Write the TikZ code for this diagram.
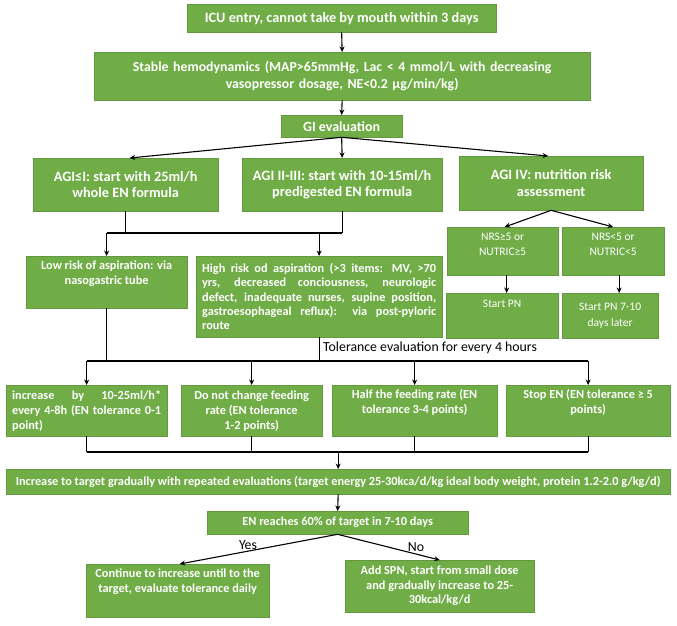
\documentclass[tikz,border=0pt]{standalone}
\usepackage{fontspec}
\setmainfont{Carlito}
\usetikzlibrary{arrows.meta,shadows,calc}
\definecolor{boxgreen}{RGB}{112,173,71}
\newcommand\fsz[2]{\fontsize{#1}{#2}\selectfont}
\tikzset{
  gbox/.style={anchor=north west, fill=boxgreen, draw=boxgreen!88!black, line width=0.3pt,
    text=white, inner sep=0pt, align=center,
    drop shadow={shadow xshift=1.3pt, shadow yshift=-1.3pt, opacity=0.35, fill=black!60}},
  toplbl/.style={anchor=north, text=white, align=center, inner sep=0pt},
  conn/.style={line width=1.1pt, black},
  arr/.style={conn, -{Stealth[length=5.5pt,width=5pt]}},
  lbl/.style={text=black, inner sep=0pt, font=\fsz{13.8}{16}},
}
\begin{document}
\begin{tikzpicture}[x=1pt,y=-1pt]
\useasboundingbox (0,0) rectangle (677,625);
% row 1-3
\node[gbox, minimum width=309pt, minimum height=28pt, font=\bfseries\fsz{14.3}{16}] (icu) at (187,4)
  {ICU entry, cannot take by mouth within 3 days};
\node[gbox, minimum width=496pt, minimum height=48pt, text width=486pt, font=\bfseries\fsz{13.8}{17}] (stable) at (94,52)
  {Stable hemodynamics (MAP>65mmHg, Lac < 4 mmol/L with decreasing\\vasopressor dosage, NE<0.2 µg/min/kg)};
\node[gbox, minimum width=121pt, minimum height=22pt, font=\bfseries\fsz{14}{16}] (gi) at (281,115)
  {GI evaluation};
% AGI row
\node[gbox, minimum width=185pt, minimum height=53pt, font=\bfseries\fsz{14.3}{16.5}] (agi1) at (33,158)
  {AGI≤I: start with 25ml/h\\whole EN formula};
\node[gbox, minimum width=200pt, minimum height=53pt, font=\bfseries\fsz{14.3}{16.5}] (agi2) at (242,158)
  {AGI II-III: start with 10-15ml/h\\predigested EN formula};
\node[gbox, minimum width=184pt, minimum height=54pt, font=\bfseries\fsz{14.3}{16.5}] (agi3) at (459,156)
  {AGI IV: nutrition risk\\assessment};
% aspiration row
\node[gbox, minimum width=161pt, minimum height=52pt,
  label={[toplbl, yshift=-5pt, font=\bfseries\fsz{12.3}{15}]north:{Low risk of aspiration: via\\nasogastric tube}}] (low) at (26,256) {};
\node[gbox, minimum width=246pt, minimum height=81pt, text width=234pt, align=justify, font=\bfseries\fsz{12.3}{14.4}] (high) at (196,256)
  {\hyphenpenalty=10000 High risk od aspiration (>3 items: MV, >70\linebreak yrs, decreased conciousness, neurologic\linebreak defect, inadequate nurses, supine position,\linebreak gastroesophageal reflux): via post-pyloric\linebreak route};
% NRS
\node[gbox, minimum width=111pt, minimum height=48pt,
  label={[toplbl, yshift=-6pt, font=\fsz{11.5}{15}]north:{NRS≥5 or\\NUTRIC≥5}}] (nrs1) at (447,227) {};
\node[gbox, minimum width=102pt, minimum height=48pt,
  label={[toplbl, yshift=-6pt, font=\fsz{11.5}{15}]north:{NRS<5 or\\NUTRIC<5}}] (nrs2) at (562,227) {};
\node[gbox, minimum width=112pt, minimum height=45pt,
  label={[toplbl, yshift=-7pt, font=\fsz{11.5}{15}]north:{Start PN}}] (pn1) at (446,293) {};
\node[gbox, minimum width=96pt, minimum height=45pt, font=\fsz{11.5}{16}] (pn2) at (562,293)
  {Start PN 7-10\\days later};
% tolerance label
\node[lbl, anchor=west] (tol) at (323,348) {Tolerance evaluation for every 4 hours};
% row 4
\node[gbox, minimum width=161pt, minimum height=51pt, text width=149pt, align=justify, font=\bfseries\fsz{12.3}{15}] (inc) at (6,385)
  {\hyphenpenalty=10000 increase by 10-25ml/h*\linebreak every 4-8h (EN tolerance 0-1\linebreak point)};
\node[gbox, minimum width=141pt, minimum height=51pt, font=\bfseries\fsz{12.3}{15}] (dnc) at (181,385)
  {Do not change feeding\\rate (EN tolerance\\1-2 points)};
\node[gbox, minimum width=165pt, minimum height=51pt,
  label={[toplbl, yshift=-4pt, font=\bfseries\fsz{12.3}{15}]north:{Half the feeding rate (EN\\tolerance 3-4 points)}}] (half) at (332,385) {};
\node[gbox, minimum width=164pt, minimum height=51pt,
  label={[toplbl, yshift=-4pt, font=\bfseries\fsz{12.3}{15}]north:{Stop EN (EN tolerance ≥ 5\\points)}}] (stop) at (506,385) {};
% bottom
\node[gbox, minimum width=664pt, minimum height=25pt, font=\bfseries\fsz{12.3}{14}] (target) at (6,469)
  {Increase to target gradually with repeated evaluations (target energy 25-30kca/d/kg ideal body weight, protein 1.2-2.0 g/kg/d)};
\node[gbox, minimum width=261pt, minimum height=23pt, font=\bfseries\fsz{12.3}{14}] (en) at (207,511)
  {EN reaches 60\% of target in 7-10 days};
\node[gbox, minimum width=183pt, minimum height=53pt,
  label={[toplbl, yshift=-5pt, font=\bfseries\fsz{12.3}{15}]north:{Continue to increase until to the\\target, evaluate tolerance daily}}] (cont) at (86,564) {};
\node[gbox, minimum width=189pt, minimum height=52pt, font=\bfseries\fsz{12.3}{14.5}] (spn) at (345,560)
  {Add SPN, start from small dose\\and gradually increase to 25-\\30kcal/kg/d};
\node[lbl] (yes) at (248,545) {Yes};
\node[lbl] (no) at (416,547) {No};
% junction coordinates
\coordinate (r1) at (0,233);
\coordinate (r2) at (0,361);
\coordinate (r3) at (0,452);
% connectors
\draw[arr] (icu.south) -- (stable.north);
\draw[arr] (stable.south) -- (gi.north);
\draw[arr] (gi.south) -- ([xshift=4pt]agi1.north);
\draw[arr] (gi.south) -- (agi2.north);
\draw[arr] (gi.south) -- ([xshift=-3pt]agi3.north);
\draw[conn] (agi1.south) -- (agi1.south |- r1);
\draw[conn] (agi2.south) -- (agi2.south |- r1);
\draw[conn] (low.north |- r1) -- (agi2.south |- r1);
\draw[arr] (low.north |- r1) -- (low.north);
\draw[arr] (high.north |- r1) -- (high.north);
\draw[arr] (agi3.south) -- ([xshift=2pt]nrs1.north);
\draw[arr] (agi3.south) -- (nrs2.north);
\draw[arr] ([xshift=4pt]nrs1.south) -- ([xshift=4pt]nrs1.south |- pn1.north);
\draw[arr] ([xshift=6pt]nrs2.south) -- ([xshift=6pt]nrs2.south |- pn2.north);
\draw[conn] (low.south) -- (low.south |- r2);
\draw[conn] (high.south) -- (high.south |- r2);
\draw[conn] (inc.north |- r2) -- (stop.north |- r2);
\draw[arr] (inc.north |- r2) -- (inc.north);
\draw[arr] (dnc.north |- r2) -- (dnc.north);
\draw[arr] (half.north |- r2) -- (half.north);
\draw[arr] (stop.north |- r2) -- (stop.north);
\draw[conn] (inc.south) -- (inc.south |- r3);
\draw[conn] (dnc.south) -- (dnc.south |- r3);
\draw[conn] (half.south) -- (half.south |- r3);
\draw[conn] (stop.south) -- (stop.south |- r3);
\draw[conn] (inc.south |- r3) -- (stop.south |- r3);
\draw[arr] (target.north |- r3) -- (target.north);
\draw[arr] (target.south) -- (en.north);
\draw[arr] (en.south) -- ([xshift=2pt]cont.north);
\draw[arr] (en.south) -- (spn.north);
\end{tikzpicture}
\end{document}
